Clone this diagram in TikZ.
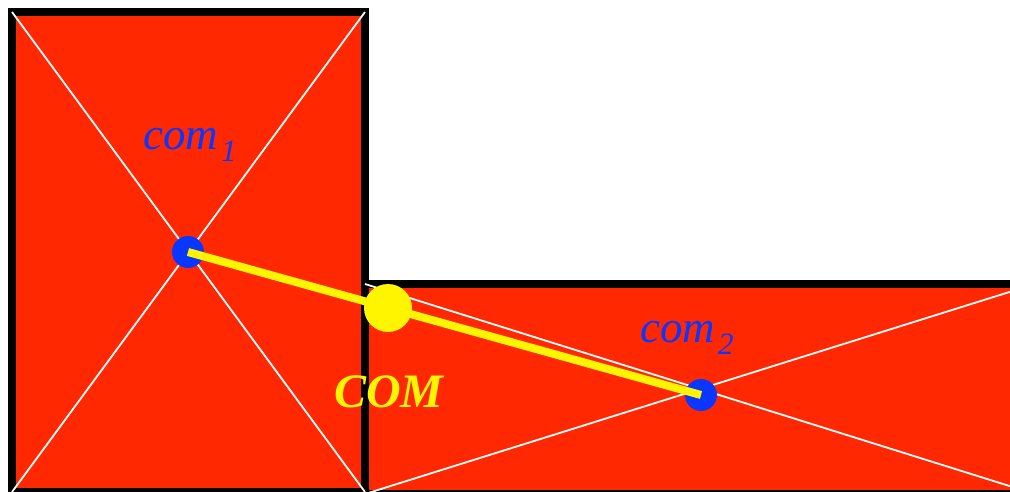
\documentclass[tikz,border=0pt]{standalone}
\usepackage{fontspec}
\setmainfont{Liberation Serif}
\definecolor{bred}{RGB}{255,40,0}
\definecolor{bblue}{RGB}{10,55,255}
\definecolor{byellow}{RGB}{255,245,0}
\tikzset{
  body/.style={fill=bred,draw=black,line width=8pt,line join=miter},
  diag/.style={draw=white,line width=1.8pt},
  comdot/.style={circle,fill=bblue,inner sep=0pt,minimum size=32pt},
  bigdot/.style={circle,fill=byellow,inner sep=0pt,minimum size=48pt},
  link/.style={draw=byellow,line width=8pt},
  comlabel/.style={text=bblue,font=\fontsize{45}{45}\selectfont\itshape,inner sep=0pt,anchor=base west},
  COMlabel/.style={text=byellow,font=\fontsize{48}{48}\selectfont\bfseries\itshape,inner sep=0pt,anchor=base west}
}
\newcommand{\lowsub}[1]{\hspace{3pt}\raisebox{-12pt}{\fontsize{31}{31}\selectfont #1}}
\begin{document}
\begin{tikzpicture}[x=1pt,y=-1pt]
\useasboundingbox (0,0) rectangle (1010,492);
\begin{scope}
\clip (0,0) rectangle (1010,492);
% rectangles
\coordinate (a1) at (12,12);
\coordinate (a2) at (365,12);
\coordinate (a3) at (365,492);
\coordinate (a4) at (12,492);
\coordinate (b1) at (365,284);
\coordinate (b2) at (1035,284);
\coordinate (b3) at (1035,494);
\coordinate (b4) at (365,494);
\draw[body] (b1) -- (b2) -- (b3) -- (b4) -- cycle;
\draw[body] (a1) -- (a2) -- (a3) -- (a4) -- cycle;
\draw[diag] (a1) -- (a3);
\draw[diag] (a2) -- (a4);
\draw[diag] (b1) -- (b3);
\draw[diag] (b2) -- (b4);
% centres of mass
\node[comdot] (c1) at (188,252) {};
\node[comdot] (c2) at (701,395) {};
\draw[link] (c1.center) -- (c2.center);
\node[bigdot] (C) at (388,308) {};
\node[comlabel] (l1) at (143,150) {com\lowsub{1}};
\node[comlabel] (l2) at (640,342) {com\lowsub{2}};
\node[COMlabel] (L) at (334,407) {COM};
\end{scope}
\end{tikzpicture}
\end{document}
